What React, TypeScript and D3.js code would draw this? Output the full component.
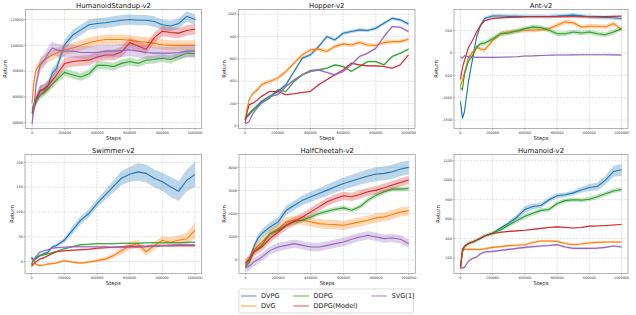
import React from "react";
import * as d3 from "d3";

const STEPS = [0, 12500, 25000, 50000, 75000, 100000, 125000, 150000, 200000, 250000, 300000, 350000, 400000, 450000, 500000, 550000, 600000, 650000, 700000, 750000, 800000, 850000, 900000, 950000, 1000000];
const SERIES = ["DVPG", "DVG", "DDPG", "DDPG(Model)", "SVG(1)"];
const COLORS = ["#1f77b4", "#ff7f0e", "#2ca02c", "#d62728", "#9467bd"];
const X_TICKS = [0, 200000, 400000, 600000, 800000, 1000000];

// HumanoidStandup-v2 (values in thousands)
const STANDUP_DVPG = [48, 52, 57, 65, 66.5, 69.5, 78.5, 82, 100.5, 108, 112, 116, 117, 117.5, 118.5, 119.5, 120, 119.5, 119.5, 118.5, 116, 115, 117, 122.5, 120];
const STANDUP_DVG = [55, 73, 81, 86, 88.5, 91, 92.5, 94, 96.5, 98, 100, 102, 103.5, 104.5, 104.5, 104.5, 104, 103, 102.5, 101.5, 100.5, 100, 100, 100, 100];
const STANDUP_DDPG = [50, 54, 57, 61, 64, 66.5, 70, 73, 79, 77, 75.5, 78, 84.5, 84.5, 83.5, 86, 87.5, 86, 88.5, 89, 90, 89, 91.5, 94, 93.5];
const STANDUP_MODEL = [47, 52, 58.5, 65, 65.5, 69, 73, 77, 86, 87.5, 88, 88.5, 91, 92.5, 92.5, 95, 102, 99.5, 97, 106, 111, 110, 109.5, 111.5, 112.5];
const STANDUP_SVG = [39, 52, 70, 84.5, 88.5, 94, 98, 96.5, 95.5, 95.5, 94.5, 94.5, 94.5, 95.5, 95.5, 96, 96.5, 95.5, 94.5, 94, 94, 94, 94.5, 95.5, 95.5];
const STANDUP_BAND = [4, 4, 3, 4, 5];

// Hopper-v2
const HOPPER_DVPG = [54, 80, 100, 143, 180, 218, 240, 263, 307, 367, 487, 606, 636, 710, 800, 770, 830, 845, 860, 854, 875, 920, 964, 950, 913];
const HOPPER_DVG = [54, 150, 233, 293, 322, 367, 385, 397, 427, 487, 561, 636, 680, 687, 666, 710, 734, 725, 746, 725, 720, 746, 755, 755, 776];
const HOPPER_DDPG = [54, 90, 110, 143, 175, 203, 225, 248, 322, 307, 397, 457, 487, 501, 516, 546, 531, 487, 531, 576, 576, 546, 621, 651, 687];
const HOPPER_MODEL = [24, 120, 188, 203, 230, 263, 285, 307, 307, 278, 287, 298, 307, 367, 412, 457, 501, 561, 546, 537, 537, 531, 516, 546, 636];
const HOPPER_SVG = [18, 25, 39, 113, 160, 203, 235, 263, 278, 352, 412, 457, 496, 501, 478, 457, 487, 546, 621, 651, 695, 800, 890, 884, 845];
const HOPPER_BAND = [15, 18, 10, 6, 10];

// Ant-v2
const ANT_DVPG = [-1083, -1462, -1310, -629, -136, 356, 621, 773, 826, 826, 820, 820, 815, 815, 815, 815, 825, 840, 848, 830, 810, 800, 795, 790, 773];
const ANT_DVG = [-742, -600, -439, -98, 15, 129, 91, 68, 280, 432, 470, 492, 508, 508, 523, 545, 621, 697, 674, 583, 598, 598, 583, 659, 523];
const ANT_DDPG = [-780, -818, -477, -174, -60, 129, 205, 220, 318, 432, 447, 492, 545, 583, 568, 508, 432, 432, 470, 447, 470, 432, 409, 470, 545];
const ANT_MODEL = [-590, -326, -174, 129, 280, 470, 621, 720, 773, 785, 795, 800, 810, 810, 810, 810, 810, 810, 810, 810, 810, 815, 815, 820, 826];
const ANT_SVG = [-83, -114, -60, -83, -90, -98, -98, -98, -98, -95, -90, -85, -68, -65, -55, -50, -45, -45, -42, -40, -38, -40, -40, -42, -45];
const ANT_BAND = [45, 50, 50, 15, 15];

// Swimmer-v2
const SWIM_DVPG = [9, 2, 5, 12, 16, 19, 29, 32, 43, 63, 83, 97, 117, 134, 151, 168, 176, 181, 178, 168, 161, 151, 142, 164, 176];
const SWIM_DVG = [-9, 5, -5, -8, -7, -5, -4, -3, 2, -1, -3, -1, 2, 5, 12, 22, 32, 36, 20, 32, 43, 39, 43, 46, 63];
const SWIM_DDPG = [-5, 3, 9, 12, 14, 16, 18, 20, 26, 30, 34, 35, 36, 36, 36, 37, 37, 37, 38, 38, 38, 38, 38, 39, 39];
const SWIM_MODEL = [-9, -5, -1, 5, 8, 12, 16, 20, 22, 23, 24, 25, 27, 28, 29, 30, 31, 31, 31, 32, 32, 32, 32, 32, 32];
const SWIM_SVG = [5, 2, 9, 19, 22, 24, 27, 28, 29, 30, 30, 30, 30, 30, 29, 29, 29, 29, 30, 31, 32, 33, 34, 34, 34];
const SWIM_BAND_DVPG = [3, 3, 3, 3, 3, 3, 3, 4, 5, 8, 8, 8, 8, 10, 12, 14, 15, 18, 18, 18, 18, 20, 20, 22, 25];
const SWIM_BAND_DVG = [2, 2, 2, 2, 2, 2, 2, 2, 2, 2, 2, 2, 3, 4, 5, 7, 8, 8, 8, 8, 8, 10, 10, 12, 16];
const SWIM_BAND = [1.5, 2, 2];

// HalfCheetah-v2
const CHEETAH_DVPG = [-319, -150, 43, 551, 913, 1130, 1280, 1420, 1638, 2145, 2362, 2580, 2725, 2870, 3014, 3159, 3304, 3406, 3522, 3623, 3710, 3739, 3812, 3928, 4000];
const CHEETAH_DVG = [-174, -100, -29, 406, 600, 768, 950, 1130, 1348, 1638, 1710, 1710, 1638, 1565, 1536, 1520, 1493, 1565, 1638, 1710, 1812, 1855, 1957, 2072, 2116];
const CHEETAH_DDPG = [-290, -200, -60, 333, 480, 623, 900, 1130, 1275, 1493, 1667, 1710, 1855, 2000, 2101, 2188, 2246, 2145, 2290, 2580, 2797, 2942, 3058, 3058, 3087];
const CHEETAH_MODEL = [-130, -50, 43, 333, 440, 551, 730, 913, 1203, 1493, 1667, 1855, 2072, 2290, 2507, 2652, 2768, 2725, 2826, 2942, 3014, 3116, 3232, 3348, 3449];
const CHEETAH_SVG = [-362, -320, -275, -101, 0, 116, 260, 406, 551, 623, 696, 623, 551, 551, 623, 696, 768, 884, 986, 1058, 986, 913, 942, 884, 696];
const CHEETAH_BAND_DVPG = [100, 100, 120, 150, 170, 180, 190, 200, 200, 200, 200, 210, 220, 230, 240, 250, 260, 270, 280, 290, 300, 300, 300, 300, 300];
const CHEETAH_BAND = [200, 100, 180, 180];

// Humanoid-v2
const HUMANOID_DVPG = [97, 262, 320, 350, 365, 383, 405, 428, 459, 510, 560, 620, 700, 730, 740, 800, 840, 850, 870, 900, 925, 935, 1000, 1090, 1107];
const HUMANOID_DVG = [97, 297, 290, 290, 290, 288, 290, 295, 310, 318, 328, 332, 338, 360, 375, 376, 372, 350, 338, 345, 355, 362, 365, 366, 366];
const HUMANOID_DDPG = [97, 262, 320, 350, 365, 383, 405, 428, 455, 490, 540, 585, 630, 660, 690, 700, 760, 790, 800, 795, 805, 830, 860, 890, 905];
const HUMANOID_MODEL = [97, 297, 320, 350, 365, 383, 405, 428, 452, 465, 475, 480, 486, 495, 505, 515, 521, 515, 510, 515, 528, 530, 535, 540, 545];
const HUMANOID_SVG = [97, 100, 107, 170, 195, 210, 245, 262, 269, 279, 290, 300, 310, 318, 324, 330, 338, 314, 300, 300, 300, 303, 310, 325, 314];
const HUMANOID_BAND_DVPG = [5, 5, 5, 5, 5, 5, 6, 8, 10, 15, 20, 28, 35, 30, 25, 25, 25, 25, 25, 30, 35, 40, 45, 55, 60];
const HUMANOID_BAND = [12, 22, 6, 12];

type Band = number | number[];
interface PanelDef {
  title: string;
  means: number[][];
  bands: Band[];
  scale: number;
  yDomain: [number, number];
  yTicks: number[];
  left: number;
  right: number;
  top: number;
  bottom: number;
  ylabX: number;
}

const ROW1 = { top: 9.5, bottom: 128.5 };
const ROW2 = { top: 154.5, bottom: 273.5 };

const PANELS: PanelDef[] = [
  {
    title: "HumanoidStandup-v2",
    means: [STANDUP_DVPG, STANDUP_DVG, STANDUP_DDPG, STANDUP_MODEL, STANDUP_SVG],
    bands: STANDUP_BAND, scale: 1000,
    yDomain: [35500, 127800], yTicks: [40000, 60000, 80000, 100000, 120000],
    left: 25.5, right: 201.5, ...ROW1, ylabX: 5.5,
  },
  {
    title: "Hopper-v2",
    means: [HOPPER_DVPG, HOPPER_DVG, HOPPER_DDPG, HOPPER_MODEL, HOPPER_SVG],
    bands: HOPPER_BAND, scale: 1,
    yDomain: [-25, 1043], yTicks: [0, 200, 400, 600, 800, 1000],
    left: 238.5, right: 415, ...ROW1, ylabX: 223.7,
  },
  {
    title: "Ant-v2",
    means: [ANT_DVPG, ANT_DVG, ANT_DDPG, ANT_MODEL, ANT_SVG],
    bands: ANT_BAND, scale: 1,
    yDomain: [-1690, 973], yTicks: [-1500, -1000, -500, 0, 500],
    left: 454, right: 628, ...ROW1, ylabX: 435.7,
  },
  {
    title: "Swimmer-v2",
    means: [SWIM_DVPG, SWIM_DVG, SWIM_DDPG, SWIM_MODEL, SWIM_SVG],
    bands: [SWIM_BAND_DVPG, SWIM_BAND_DVG, ...SWIM_BAND], scale: 1,
    yDomain: [-24, 216], yTicks: [0, 50, 100, 150, 200],
    left: 25, right: 201.5, ...ROW2, ylabX: 11.7,
  },
  {
    title: "HalfCheetah-v2",
    means: [CHEETAH_DVPG, CHEETAH_DVG, CHEETAH_DDPG, CHEETAH_MODEL, CHEETAH_SVG],
    bands: [CHEETAH_BAND_DVPG, ...CHEETAH_BAND], scale: 1,
    yDomain: [-596, 4557], yTicks: [0, 1000, 2000, 3000, 4000],
    left: 239, right: 415.3, ...ROW2, ylabX: 223.7,
  },
  {
    title: "Humanoid-v2",
    means: [HUMANOID_DVPG, HUMANOID_DVG, HUMANOID_DDPG, HUMANOID_MODEL, HUMANOID_SVG],
    bands: [HUMANOID_BAND_DVPG, ...HUMANOID_BAND], scale: 1,
    yDomain: [42, 1264], yTicks: [200, 400, 600, 800, 1000, 1200],
    left: 454, right: 628, ...ROW2, ylabX: 438,
  },
];

const FONT = "DejaVu Sans, sans-serif";

function Panel({ p, idx }: { p: PanelDef; idx: number }) {
  const x = d3.scaleLinear().domain([-40000, 1040000]).range([p.left, p.right]);
  const y = d3.scaleLinear().domain(p.yDomain).range([p.bottom, p.top]);
  const clipId = `clip${idx}`;
  const cx = (p.left + p.right) / 2;
  const cy = (p.top + p.bottom) / 2;
  return (
    <g>
      <defs>
        <clipPath id={clipId}>
          <rect x={p.left} y={p.top} width={p.right - p.left} height={p.bottom - p.top} />
        </clipPath>
      </defs>
      <rect x={p.left} y={p.top} width={p.right - p.left} height={p.bottom - p.top} fill="#fff" />
      {X_TICKS.map((t) => (
        <line key={"gx" + t} x1={x(t)} x2={x(t)} y1={p.top} y2={p.bottom} stroke="#d0d0d0" strokeWidth={0.6} strokeDasharray="2.2,1" />
      ))}
      {p.yTicks.map((t) => (
        <line key={"gy" + t} x1={p.left} x2={p.right} y1={y(t)} y2={y(t)} stroke="#d0d0d0" strokeWidth={0.6} strokeDasharray="2.2,1" />
      ))}
      <g clipPath={`url(#${clipId})`}>
        {p.means.map((m, si) => {
          const vals = m.map((v) => v * p.scale);
          const b = p.bands[si];
          const bw = (i: number) => (Array.isArray(b) ? b[i] : b) * p.scale;
          const area = d3
            .area<number>()
            .x((_, i) => x(STEPS[i]))
            .y0((v, i) => y(v - bw(i)))
            .y1((v, i) => y(v + bw(i)));
          const line = d3
            .line<number>()
            .x((_, i) => x(STEPS[i]))
            .y((v) => y(v));
          return (
            <g key={si}>
              <path d={area(vals) || ""} fill={COLORS[si]} fillOpacity={0.3} stroke="none" />
              <path d={line(vals) || ""} fill="none" stroke={COLORS[si]} strokeWidth={1.1} />
            </g>
          );
        })}
      </g>
      <rect x={p.left} y={p.top} width={p.right - p.left} height={p.bottom - p.top} fill="none" stroke="#a0a0a0" strokeWidth={0.8} />
      {X_TICKS.map((t) => (
        <g key={"tx" + t}>
          <line x1={x(t)} x2={x(t)} y1={p.bottom} y2={p.bottom + 1.5} stroke="#777" strokeWidth={0.5} />
          <text x={x(t)} y={p.bottom + 5.2} fontSize={3.4} textAnchor="middle" fontFamily={FONT} fill="#333">
            {String(t)}
          </text>
        </g>
      ))}
      {p.yTicks.map((t) => (
        <g key={"ty" + t}>
          <line x1={p.left - 1.5} x2={p.left} y1={y(t)} y2={y(t)} stroke="#777" strokeWidth={0.5} />
          <text x={p.left - 2.2} y={y(t) + 1.2} fontSize={3.4} textAnchor="end" fontFamily={FONT} fill="#333">
            {String(t)}
          </text>
        </g>
      ))}
      <text x={cx} y={p.top - 2} fontSize={6.9} textAnchor="middle" fontFamily={FONT} fill="#111">
        {p.title}
      </text>
      <text x={cx} y={p.bottom + 11.8} fontSize={5.3} textAnchor="middle" fontFamily={FONT} fill="#222">
        Steps
      </text>
      <text
        transform={`translate(${p.ylabX + 1.8},${cy}) rotate(-90)`}
        fontSize={5.3}
        textAnchor="middle"
        fontFamily={FONT}
        fill="#222"
      >
        Return
      </text>
    </g>
  );
}

function Legend() {
  const cols = [241, 293.5, 371.5];
  const rows = [296, 306];
  const order = [
    [0, 0], [0, 1], [1, 0], [1, 1], [2, 0],
  ];
  return (
    <g>
      <rect x={239} y={289} width={174.5} height={24} rx={1.5} fill="#fff" stroke="#cfcfcf" strokeWidth={0.7} />
      {SERIES.map((s, i) => {
        const [c, r] = order[i];
        const lx = cols[c];
        const ly = rows[r];
        return (
          <g key={s}>
            <line x1={lx} x2={lx + 15.5} y1={ly} y2={ly} stroke={COLORS[i]} strokeOpacity={0.4} strokeWidth={2} />
            <text x={lx + 20} y={ly + 2.3} fontSize={6.6} fontFamily={FONT} fill="#222">
              {s}
            </text>
          </g>
        );
      })}
    </g>
  );
}

export default function App() {
  return (
    <svg
      width={636}
      height={315}
      viewBox="0 0 636 315"
      style={{ position: "fixed", left: 0, top: 0, background: "#fff" }}
    >
      <rect x={0} y={0} width={636} height={315} fill="#fff" />
      {PANELS.map((p, i) => (
        <Panel key={p.title} p={p} idx={i} />
      ))}
      <Legend />
    </svg>
  );
}
